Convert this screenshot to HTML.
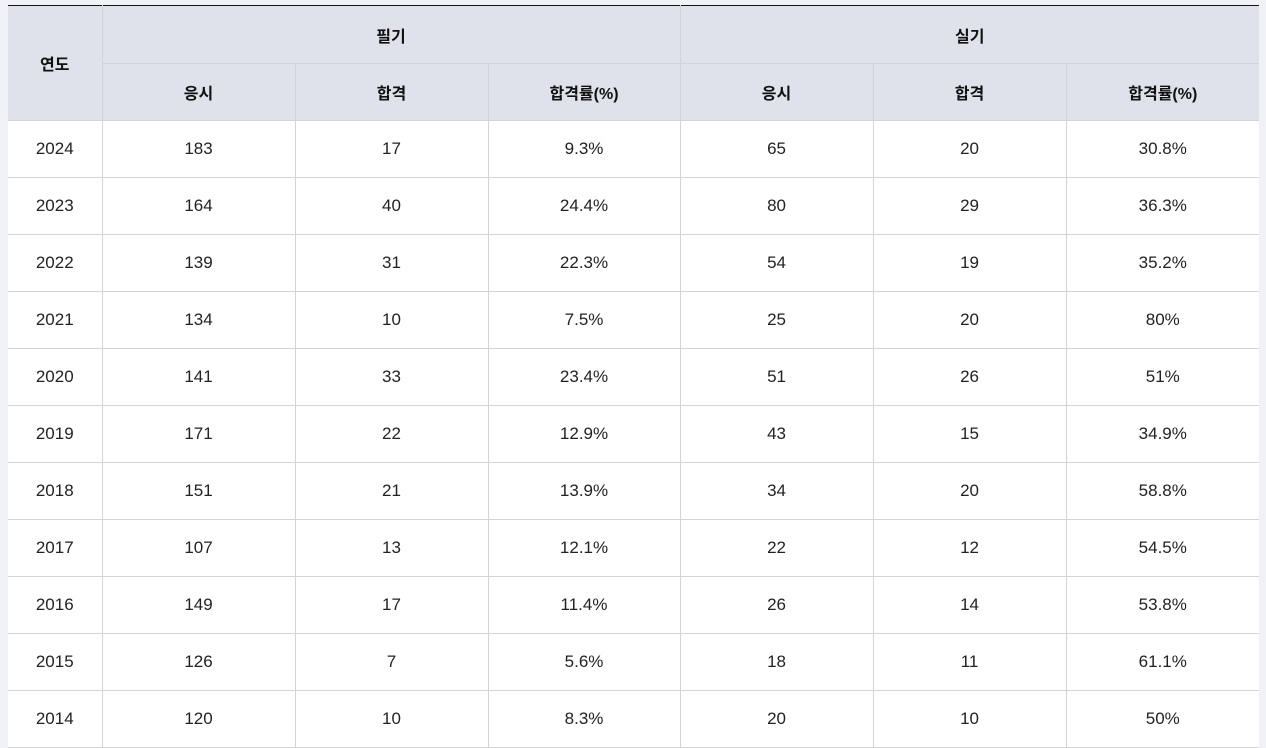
<!DOCTYPE html>
<html><head><meta charset="utf-8"><style>
html,body{margin:0;padding:0;background:#f0f2f7;width:1266px;height:698px;overflow:hidden}
table{position:absolute;left:8px;top:5px;width:1251px;border-collapse:collapse;table-layout:fixed;border-top:1px solid #111;font-family:"Liberation Sans","Noto Sans CJK KR",sans-serif;font-size:17px;color:#222;background:#fff}
td,th{border:1px solid #d4d4d8;height:57px;padding:0;text-align:center;vertical-align:middle;box-sizing:border-box}
th{background:#dfe2eb;font-weight:bold;font-size:16px;color:#111}
tr:first-child th{border-top:none;height:58px}
td:first-child,th:first-child{border-left:none}
td:last-child,th:last-child{border-right:none}
</style></head><body>
<table>
<colgroup><col style="width:94px"><col style="width:193px"><col style="width:193px"><col style="width:192px"><col style="width:193px"><col style="width:193px"><col style="width:193px"></colgroup>
<tr><th rowspan="2" style="height:115px">연도</th><th colspan="3">필기</th><th colspan="3">실기</th></tr>
<tr><th>응시</th><th>합격</th><th>합격률(%)</th><th>응시</th><th>합격</th><th>합격률(%)</th></tr>
<tr><td>2024</td><td>183</td><td>17</td><td>9.3%</td><td>65</td><td>20</td><td>30.8%</td></tr>
<tr><td>2023</td><td>164</td><td>40</td><td>24.4%</td><td>80</td><td>29</td><td>36.3%</td></tr>
<tr><td>2022</td><td>139</td><td>31</td><td>22.3%</td><td>54</td><td>19</td><td>35.2%</td></tr>
<tr><td>2021</td><td>134</td><td>10</td><td>7.5%</td><td>25</td><td>20</td><td>80%</td></tr>
<tr><td>2020</td><td>141</td><td>33</td><td>23.4%</td><td>51</td><td>26</td><td>51%</td></tr>
<tr><td>2019</td><td>171</td><td>22</td><td>12.9%</td><td>43</td><td>15</td><td>34.9%</td></tr>
<tr><td>2018</td><td>151</td><td>21</td><td>13.9%</td><td>34</td><td>20</td><td>58.8%</td></tr>
<tr><td>2017</td><td>107</td><td>13</td><td>12.1%</td><td>22</td><td>12</td><td>54.5%</td></tr>
<tr><td>2016</td><td>149</td><td>17</td><td>11.4%</td><td>26</td><td>14</td><td>53.8%</td></tr>
<tr><td>2015</td><td>126</td><td>7</td><td>5.6%</td><td>18</td><td>11</td><td>61.1%</td></tr>
<tr><td>2014</td><td>120</td><td>10</td><td>8.3%</td><td>20</td><td>10</td><td>50%</td></tr>
</table>
</body></html>
